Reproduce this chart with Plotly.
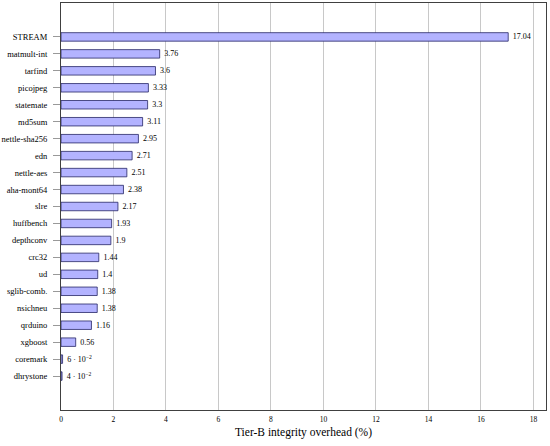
import plotly.graph_objects as go

benchmarks = [
    "STREAM", "matmult-int", "tarfind", "picojpeg", "statemate", "md5sum",
    "nettle-sha256", "edn", "nettle-aes", "aha-mont64", "slre", "huffbench",
    "depthconv", "crc32", "ud", "sglib-comb.", "nsichneu", "qrduino",
    "xgboost", "coremark", "dhrystone",
]
overhead = [
    17.04, 3.76, 3.6, 3.33, 3.3, 3.11, 2.95, 2.71, 2.51, 2.38, 2.17, 1.93,
    1.9, 1.44, 1.4, 1.38, 1.38, 1.16, 0.56, 0.06, 0.04,
]
bar_labels = [
    "17.04", "3.76", "3.6", "3.33", "3.3", "3.11", "2.95", "2.71", "2.51",
    "2.38", "2.17", "1.93", "1.9", "1.44", "1.4", "1.38", "1.38", "1.16",
    "0.56", "6 · 10<sup>−2</sup>", "4 · 10<sup>−2</sup>",
]
x_ticks = [0, 2, 4, 6, 8, 10, 12, 14, 16, 18]

font = "Liberation Serif"

fig = go.Figure(go.Bar(
    x=overhead,
    y=benchmarks,
    orientation="h",
    width=0.5,
    marker={'color': "#b3b3ff", 'line': {'color': "#262666", 'width': 0.8}},
    text=["\u2009" + t for t in bar_labels],
    textposition="outside",
    constraintext="none",
    textfont={'family': font, 'size': 8, 'color': "black"},
    cliponaxis=False,
))

fig.update_layout({
    'width': 550,
    'height': 446,
    'margin': {'l': 61, 'r': 4, 't': 3, 'b': 36, 'autoexpand': False},
    'plot_bgcolor': "white",
    'paper_bgcolor': "white",
    'font': {'family': font, 'size': 8, 'color': "black"},
    'showlegend': False,
    'xaxis': {
        'range': [0, 18.48],
        'tickvals': x_ticks,
        'automargin': False,
        'showgrid': True,
        'gridcolor': "#c8c8c8",
        'gridwidth': 0.8,
        'zeroline': False,
        'showline': True,
        'linecolor': "#404040",
        'linewidth': 1,
        'mirror': True,
        'ticks': "",
        'ticklabelstandoff': 2,
        'tickfont': {'size': 7.5},
        'title': {'text': "Tier-B integrity overhead (%)", 'font': {'size': 11.5}, 'standoff': 4},
    },
    'yaxis': {
        'type': "category",
        'categoryorder': "array",
        'categoryarray': benchmarks,
        'range': [len(benchmarks) + 1, -2],
        'automargin': False,
        'showgrid': False,
        'zeroline': False,
        'showline': True,
        'linecolor': "#404040",
        'linewidth': 1,
        'mirror': True,
        'ticks': "outside",
        'ticklen': 7,
        'tickcolor': "#999999",
        'ticklabelstandoff': 4,
        'tickfont': {'size': 8.5},
    },
})

# the page's default body margin would shift the figure by 8px
fig.write_html(
    "out.html",
    config={'displayModeBar': False},
    post_script="document.body.style.margin = '0';",
)
